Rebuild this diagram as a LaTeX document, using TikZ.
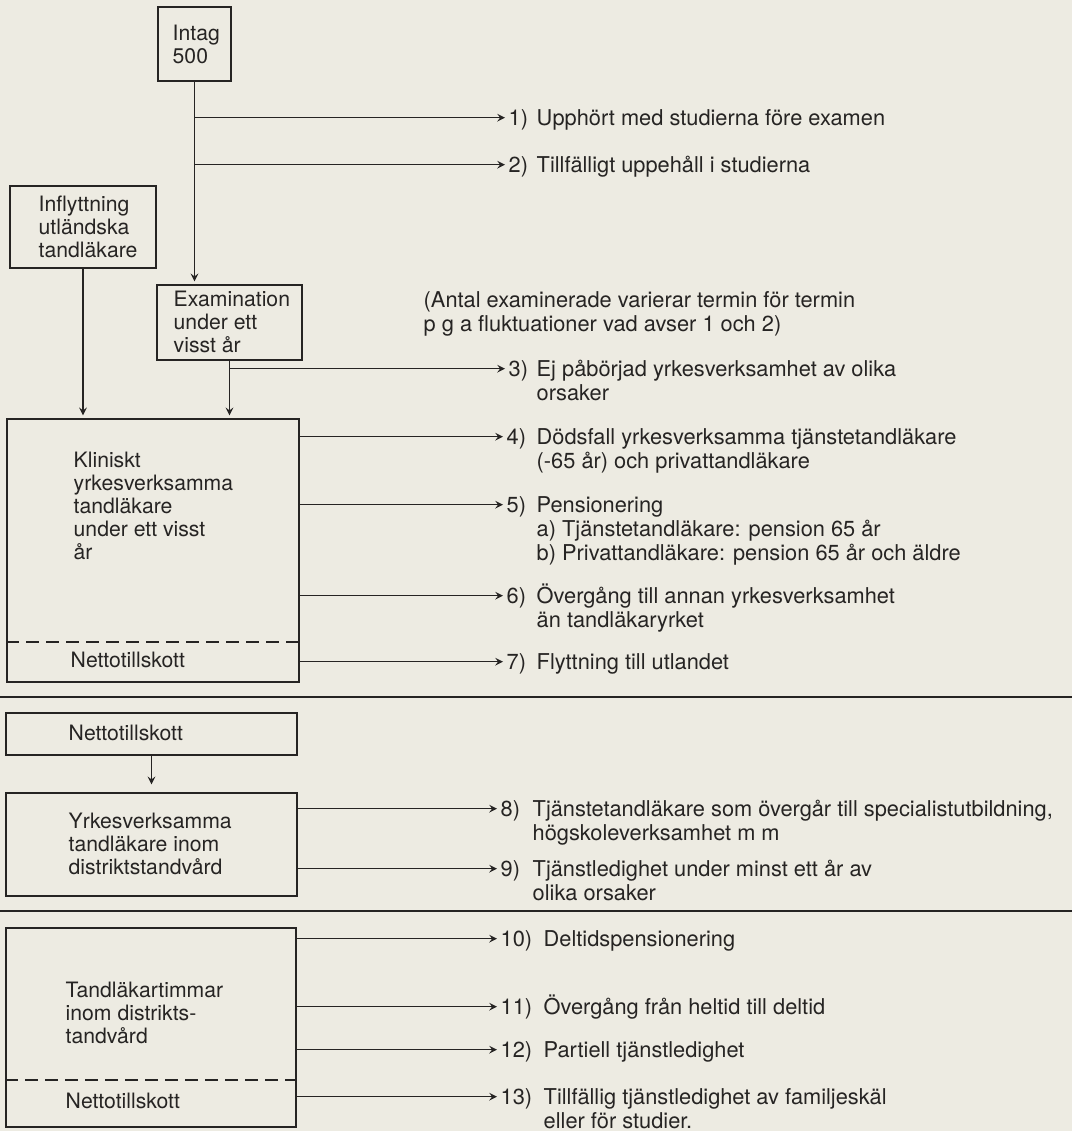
\documentclass[tikz,border=0pt]{standalone}
\usepackage{fontspec}
\setmainfont{TeX Gyre Heros}
\usetikzlibrary{arrows, positioning, fit}
\tikzset{>=stealth}
\definecolor{paper}{RGB}{237,235,226}
\definecolor{ink}{RGB}{38,36,35}
\newcommand{\lrows}[1]{\begin{tabular}[t]{@{}l@{}}#1\end{tabular}}

\begin{document}
\begin{tikzpicture}[x=0.5pt, y=-0.5pt, >=stealth, line width=0.7pt, color=ink,
        blk/.style={draw, inner sep=0pt, fit={#1}},
        boxtext/.style={anchor=base west, inner sep=0pt, font=\fontsize{10.6}{11.5}\selectfont},
        itemtext/.style={anchor=base west, inner sep=0pt, font=\fontsize{10.9}{12}\selectfont},
        numlbl/.style={anchor=base west, inner sep=0pt, text height=1.4ex, text depth=0pt, font=\fontsize{10.9}{12}\selectfont},
        flow/.style={->, shorten >=1.5pt},
        netline/.style={dash pattern=on 6.5pt off 3.5pt},
        seprule/.style={line width=1pt}]
        \useasboundingbox (0,0) rectangle (1072,1131);
        \fill[paper] (0,0) rectangle (1072,1131);

        % boxes
        \node[blk={(158,7) (231,81)}] (intag) {};
        \node[blk={(10,186) (156,268)}] (infl) {};
        \node[blk={(157,285) (302,360)}] (exam) {};
        \node[blk={(7,419) (299,682)}] (klin) {};
        \node[blk={(6,713) (297,755)}] (netto) {};
        \node[blk={(6,793) (297,896)}] (yrkes) {};
        \node[blk={(6,928) (296,1127)}] (timmar) {};

        \node[boxtext] (intagtxt) at (172,40) {\lrows{Intag\\500}};
        \node[boxtext] (infltxt) at (38,211) {\lrows{Inflyttning\\utländska\\tandläkare}};
        \node[boxtext] (examtxt) at (173,306) {\lrows{Examination\\under ett\\visst år}};
        \node[boxtext] (klintxt) at (73,467) {\lrows{Kliniskt\\yrkesverksamma\\tandläkare\\under ett visst\\år}};
        \node[boxtext] (klinnet) at (70,667) {Nettotillskott};
        \node[boxtext] (nettotxt) at (68,740) {Nettotillskott};
        \node[boxtext] (yrkestxt) at (68,828) {\lrows{Yrkesverksamma\\tandläkare inom\\distriktstandvård}};
        \node[boxtext] (timtxt) at (65,997) {\lrows{Tandläkartimmar\\inom distrikts-\\tandvård}};
        \node[boxtext] (timnet) at (65,1108) {Nettotillskott};

        \draw[netline] (klin.west |- 0,642) -- (klin.east |- 0,642);
        \draw[netline] (timmar.west |- 0,1080) -- (timmar.east |- 0,1080);

        \draw[seprule] (0,697) -- (1072,697);
        \draw[seprule] (0,911) -- (1072,911);

        % outflows
        \node[numlbl] (n1) at (508,125) {1)};
        \node[itemtext] (t1) at (536,125) {Upphört med studierna före examen};
        \node[numlbl] (n2) at (508,172) {2)};
        \node[itemtext] (t2) at (536,172) {Tillfälligt uppehåll i studierna};
        \node[itemtext] (note) at (423,307) {\lrows{(Antal examinerade varierar termin för termin\\p g a fluktuationer vad avser 1 och 2)}};
        \node[numlbl] (n3) at (508,376) {3)};
        \node[itemtext] (t3) at (536,376) {\lrows{Ej påbörjad yrkesverksamhet av olika\\orsaker}};
        \node[numlbl] (n4) at (506,444) {4)};
        \node[itemtext] (t4) at (536,444) {\lrows{Dödsfall yrkesverksamma tjänstetandläkare\\(-65 år) och privattandläkare}};
        \node[numlbl] (n5) at (506,512) {5)};
        \node[itemtext] (t5) at (536,512) {\lrows{Pensionering\\a) Tjänstetandläkare: pension 65 år\\b) Privattandläkare: pension 65 år och äldre}};
        \node[numlbl] (n6) at (506,603) {6)};
        \node[itemtext] (t6) at (536,603) {\lrows{Övergång till annan yrkesverksamhet\\än tandläkaryrket}};
        \node[numlbl] (n7) at (506,669) {7)};
        \node[itemtext] (t7) at (536,669) {Flyttning till utlandet};
        \node[numlbl] (n8) at (500,816) {8)};
        \node[itemtext] (t8) at (532,816) {\lrows{Tjänstetandläkare som övergår till specialistutbildning,\\högskoleverksamhet m m}};
        \node[numlbl] (n9) at (500,876) {9)};
        \node[itemtext] (t9) at (532,876) {\lrows{Tjänstledighet under minst ett år av\\olika orsaker}};
        \node[numlbl] (n10) at (500,946) {10)};
        \node[itemtext] (t10) at (543,946) {Deltidspensionering};
        \node[numlbl] (n11) at (500,1014) {11)};
        \node[itemtext] (t11) at (543,1014) {Övergång från heltid till deltid};
        \node[numlbl] (n12) at (500,1057) {12)};
        \node[itemtext] (t12) at (543,1057) {Partiell tjänstledighet};
        \node[numlbl] (n13) at (500,1104) {13)};
        \node[itemtext] (t13) at (543,1104) {\lrows{Tillfällig tjänstledighet av familjeskäl\\eller för studier.}};

        % connectors
        \draw[flow] (intag.south) -- (intag.south |- exam.north);
        \draw[flow] (intag.south |- n1.west) -- (n1.west);
        \draw[flow] (intag.south |- n2.west) -- (n2.west);
        \draw[flow] (infl.south) -- (infl.south |- klin.north);
        \draw[flow] (exam.south) -- (exam.south |- klin.north);
        \draw[flow] (exam.south |- n3.west) -- (n3.west);
        \foreach \i in {4,5,6,7}
            \draw[flow] (klin.east |- n\i.west) -- (n\i.west);
        \draw[flow, shorten >=4pt] (netto.south) -- (netto.south |- yrkes.north);
        \foreach \i in {8,9}
            \draw[flow] (yrkes.east |- n\i.west) -- (n\i.west);
        \foreach \i in {10,11,12,13}
            \draw[flow] (timmar.east |- n\i.west) -- (n\i.west);
\end{tikzpicture}
\end{document}
